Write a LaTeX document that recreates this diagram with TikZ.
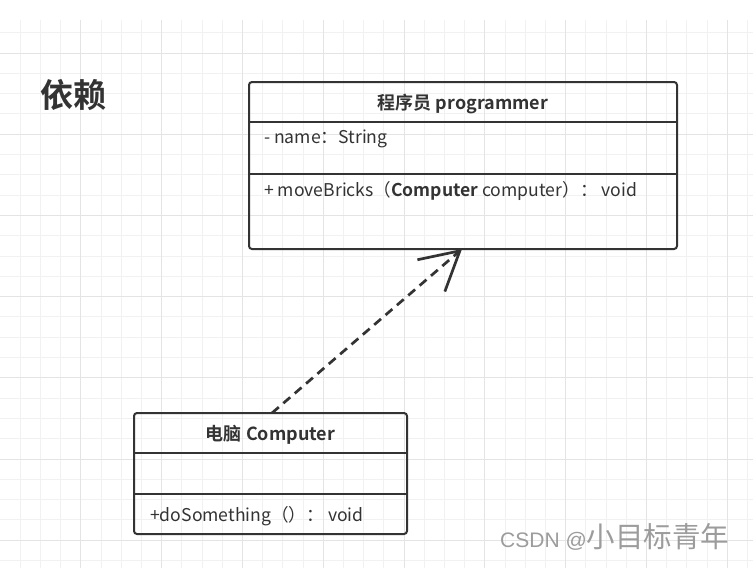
\documentclass[tikz,border=0pt]{standalone}
\usepackage{fontspec}
\setmainfont{Noto Sans CJK SC}[BoldFont={Noto Sans CJK SC Bold}]
\newfontfamily\marklatin{Liberation Sans}
\usetikzlibrary{arrows.meta,positioning,calc}
\definecolor{umlgray}{HTML}{333333}
\definecolor{gridminor}{HTML}{F1F1F1}
\definecolor{gridmajor}{HTML}{E4E4E4}
\definecolor{markgray}{HTML}{9C9C9C}
\begin{document}
\begin{tikzpicture}[x=1pt,y=-1pt,
    minorgrid/.style={line width=1pt, draw=gridminor},
    majorgrid/.style={line width=1pt, draw=gridmajor},
    boxline/.style={line width=2pt, draw=umlgray},
    compart/.style={inner sep=0pt, outer sep=0pt},
    classtitle/.style={compart, text=umlgray, font=\bfseries\fontsize{18}{20}\selectfont, text height=14pt, text depth=0pt},
    member/.style={anchor=base west, inner sep=0pt, text=umlgray, font=\fontsize{17.6}{20}\selectfont},
    depend/.style={line width=2.7pt, draw=umlgray, dash pattern=on 9pt off 6pt, -{Straight Barb[length=38pt,width=42pt]}}]
    \useasboundingbox (0,0) rectangle (753,568);
    \fill[white] (0,0) rectangle (753,568);
    % background grid
    \foreach \i in {1,...,37} \draw[minorgrid] (20.2*\i,20) -- (20.2*\i,568);
    \foreach \j in {-1,...,25} \draw[minorgrid] (0,53+20.3*\j) -- (753,53+20.3*\j);
    \foreach \i in {4,8,...,36} \draw[majorgrid] (20.2*\i,20) -- (20.2*\i,568);
    \foreach \j in {0,4,...,24} \draw[majorgrid] (0,53+20.3*\j) -- (753,53+20.3*\j);
    \node[text=umlgray, font=\bfseries\fontsize{33}{36}\selectfont] (title) at (73.5,95) {依赖};
    % class programmer
    \node[classtitle, minimum width=428pt, minimum height=40pt] (progtitle) at (463,102) {程序员 programmer};
    \node[compart, minimum width=428pt, minimum height=52pt, below=0pt of progtitle] (progattr) {};
    \node[compart, minimum width=428pt, minimum height=75pt, below=0pt of progattr] (progmeth) {};
    \draw[boxline, rounded corners=3pt] (progtitle.north west) rectangle (progmeth.south east);
    \draw[boxline] (progattr.north west) -- (progattr.north east);
    \draw[boxline] (progmeth.north west) -- (progmeth.north east);
    \node[member] (progname) at ($(progattr.north west)+(15,21)$) {- name：String};
    \node[member] (progmove) at ($(progmeth.north west)+(15,22)$) {+ moveBricks（\textbf{Computer} computer）： void};
    % class computer
    \node[classtitle, minimum width=273pt, minimum height=40pt] (comptitle) at (270.5,433) {电脑 Computer};
    \node[compart, minimum width=273pt, minimum height=41pt, below=0pt of comptitle] (compattr) {};
    \node[compart, minimum width=273pt, minimum height=40pt, below=0pt of compattr] (compmeth) {};
    \draw[boxline, rounded corners=3pt] (comptitle.north west) rectangle (compmeth.south east);
    \draw[boxline] (compattr.north west) -- (compattr.north east);
    \draw[boxline] (compmeth.north west) -- (compmeth.north east);
    \node[member] (compdo) at ($(compmeth.north west)+(16,27)$) {+doSomething（）： void};
    % dependency
    \coordinate (depfrom) at ($(comptitle.north west)+(138,0)$);
    \coordinate (depto) at ($(progmeth.south west)+(213,0)$);
    \draw[depend] (depfrom) -- (depto);
    \node[anchor=base west, inner sep=0pt, text=markgray, font=\fontsize{28.5}{30}\selectfont] (mark) at (500,547) {{\marklatin\fontsize{21}{24}\selectfont CSDN @}小目标青年};
\end{tikzpicture}
\end{document}
